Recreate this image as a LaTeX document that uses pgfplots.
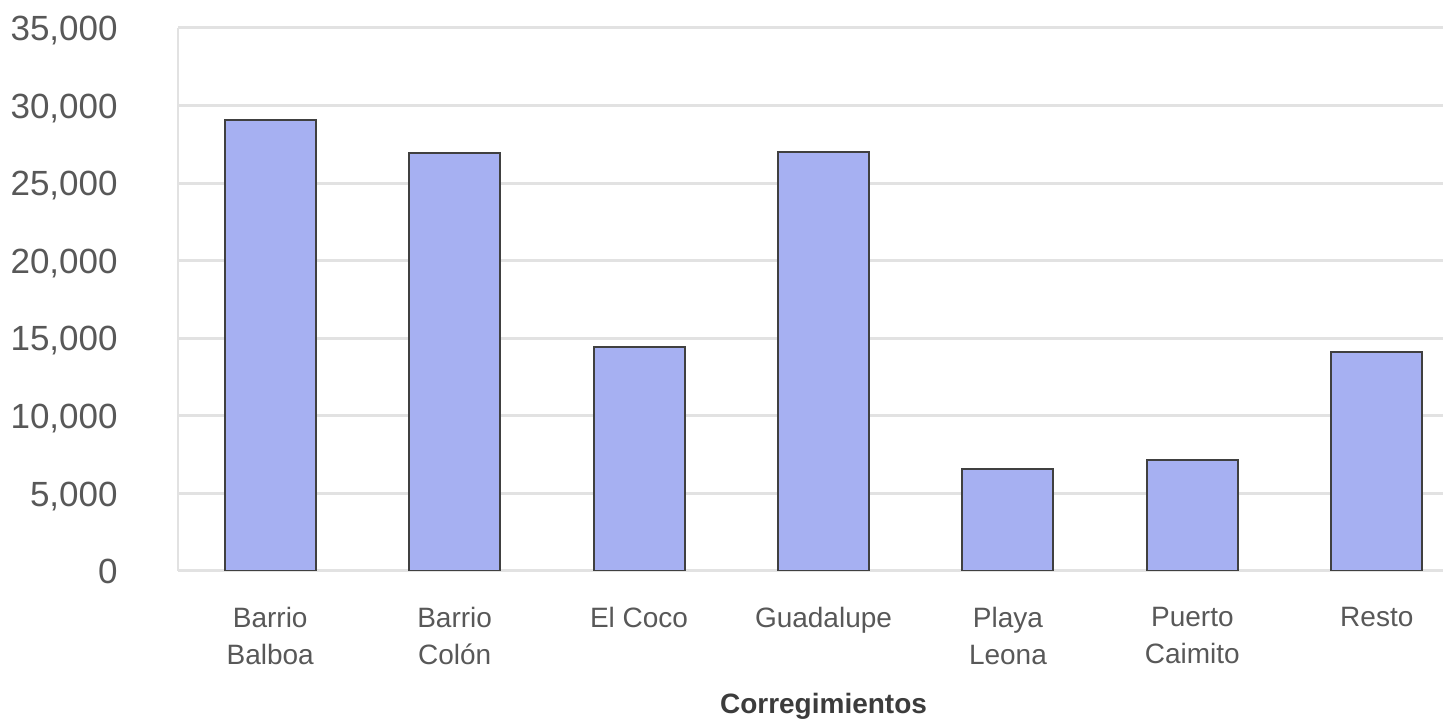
\documentclass[border=0pt]{standalone}
\usepackage{pgfplots}
\pgfplotsset{compat=1.18}
\usepackage{fontspec}
\setmainfont{Liberation Sans}
\definecolor{barfill}{RGB}{166,176,242}
\definecolor{ticktext}{RGB}{88,88,88}
\definecolor{labeltext}{RGB}{60,60,60}
\definecolor{gridc}{RGB}{226,226,226}
\definecolor{baredge}{RGB}{64,64,64}
\begin{document}
\begin{tikzpicture}
\path[use as bounding box] (0,0) rectangle (721.5pt,360.5pt);
\clip (0,0) rectangle (721.5pt,360.5pt);
\begin{axis}[
  at={(89pt,75pt)}, anchor=south west,
  scale only axis, width=645.5pt, height=271.5pt,
  xmin=-0.5, xmax=6.5, ymin=0, ymax=35000,
  ybar, bar width=45.5pt,
  xtick={0,1,2,3,4,5,6},
  xticklabels={{Barrio\\Balboa},{Barrio\\Colón},{El Coco},{Guadalupe},{Playa\\Leona},{Puerto\\Caimito},{Resto}},
  ytick={0,5000,10000,15000,20000,25000,30000,35000},
  major tick length=0pt,
  /pgf/number format/assume math mode=true,
  /pgf/number format/1000 sep={,},
  scaled y ticks=false,
  yticklabel style={font=\fontsize{17.5}{20}\selectfont, text=ticktext, anchor=base east, inner sep=0pt, xshift=-30pt, yshift=-6.3pt},
  xticklabel style={font=\fontsize{14}{18.5}\selectfont, text=ticktext, align=center, anchor=north, inner sep=0pt, yshift=-18pt},
  xlabel={Corregimientos},
  xlabel style={font=\fontsize{14}{17}\selectfont\bfseries, text=labeltext, at={(axis description cs:0.5,0)}, anchor=base, inner sep=0pt, yshift=-71pt},
  ymajorgrids, grid style={draw=gridc, line width=1.5pt},
  axis line style={draw=gridc, line width=1.2pt},
  axis x line*=bottom, axis y line*=left,
]
\addplot[fill=barfill, draw=baredge, line width=1pt, bar shift=0pt] coordinates {
  (0,29050) (1,26930) (2,14430) (3,27000) (4,6570) (5,7150) (6,14110)
};
\end{axis}
\end{tikzpicture}
\end{document}
